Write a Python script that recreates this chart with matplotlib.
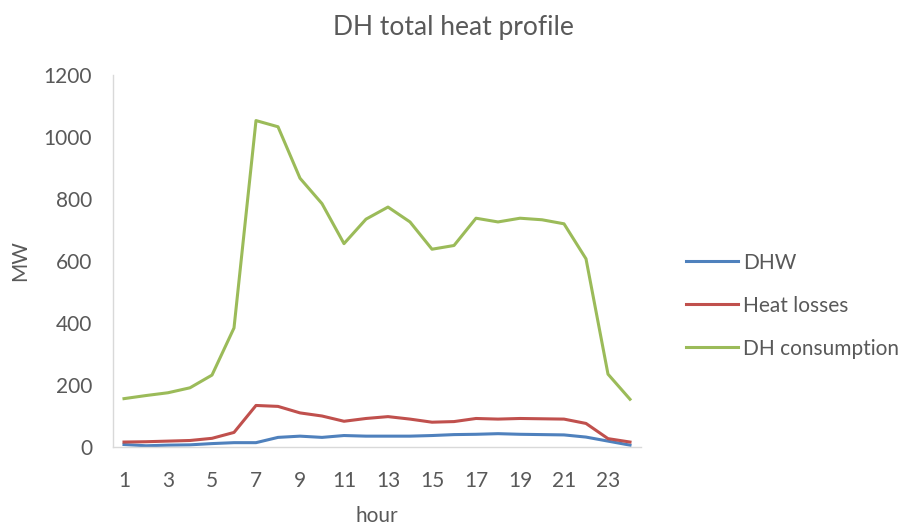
import matplotlib.pyplot as plt

hours = list(range(1, 25))
dhw = [8, 4, 6, 7, 11, 14, 14, 31, 35, 31, 37, 35, 35, 35, 37, 40, 41, 43, 41, 40, 39, 32, 19, 6]
heat_losses = [16, 17, 19, 21, 28, 47, 134, 131, 110, 100, 83, 92, 98, 90, 80, 82, 92, 90, 92, 91, 90, 76, 27, 16]
dh_consumption = [156, 166, 175, 191, 232, 384, 1053, 1033, 867, 785, 656, 735, 774, 726, 638, 650,
                  738, 726, 738, 733, 720, 607, 235, 154]
x_ticks = list(range(1, 24, 2))
y_ticks = list(range(0, 1201, 200))

plt.rcParams['font.family'] = ['Lato', 'DejaVu Sans']
text_col = '#595959'

fig = plt.figure(figsize=(9.07, 5.26), dpi=100)
ax = fig.add_axes([113 / 907, 1 - 447 / 526, (641 - 113) / 907, (447 - 75) / 526])

ax.plot(hours, dhw, color='#4F81BD', lw=2.2, label='DHW')
ax.plot(hours, heat_losses, color='#C0504D', lw=2.2, label='Heat losses')
ax.plot(hours, dh_consumption, color='#9BBB59', lw=2.2, label='DH consumption')

ax.set_xlim(0.5, 24.5)
ax.set_ylim(0, 1200)
ax.set_xticks(x_ticks)
ax.set_yticks(y_ticks)
ax.tick_params(length=0, labelsize=15, colors=text_col)
ax.tick_params(axis='y', pad=15)
ax.tick_params(axis='x', pad=17)
for s in ['top', 'right']:
    ax.spines[s].set_visible(False)
for s in ['left', 'bottom']:
    ax.spines[s].set_color('#d9d9d9')
    ax.spines[s].set_linewidth(1)

ax.set_xlabel('hour', fontsize=15, color=text_col, labelpad=11)
ax.set_ylabel('MW', fontsize=15, color=text_col, labelpad=10)
fig.suptitle('DH total heat profile', fontsize=19, color=text_col, y=1 - 27 / 526, va='center')

leg = ax.legend(loc='center left', bbox_to_anchor=(1.05, 0.38), frameon=False, fontsize=15,
                handlelength=2.5, labelspacing=1.1, handletextpad=0.25)
for t in leg.get_texts():
    t.set_color(text_col)

fig.savefig('out.png', dpi=100)
